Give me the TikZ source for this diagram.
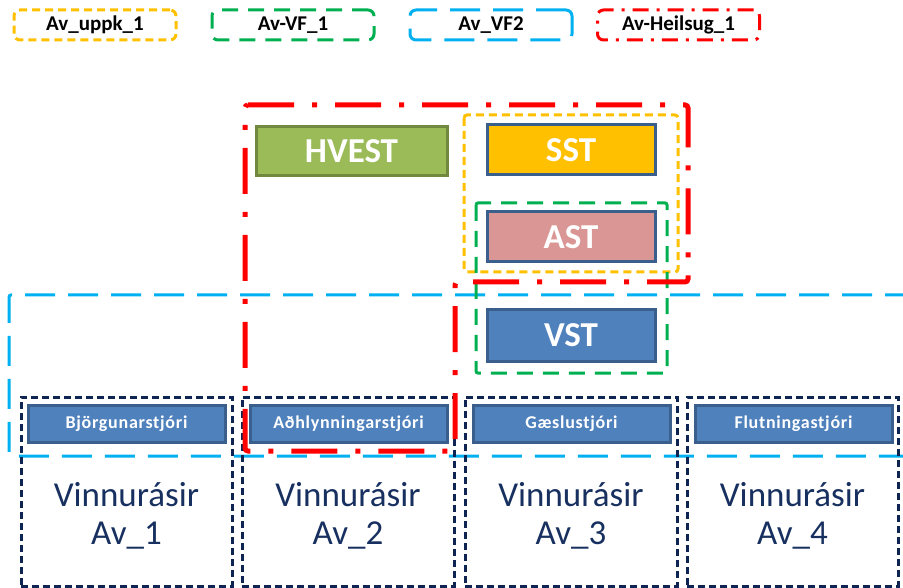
\documentclass[tikz,border=0pt]{standalone}
\usepackage{fontspec}
\setmainfont{Carlito}
\definecolor{cyel}{HTML}{FFC000}
\definecolor{cgrn}{HTML}{00B050}
\definecolor{cblu}{HTML}{00B0F0}
\definecolor{cred}{HTML}{FF0000}
\definecolor{cnavy}{HTML}{0E2453}
\definecolor{ctext}{HTML}{17305F}
\definecolor{cboxblue}{HTML}{4F81BD}
\definecolor{cboxedge}{HTML}{3A5F8D}
\definecolor{cgreenfill}{HTML}{9BBB59}
\definecolor{cgreenedge}{HTML}{71893F}
\definecolor{cpink}{HTML}{D99694}
\begin{document}
\begin{tikzpicture}[x=1pt,y=-1pt,
  legbox/.style={draw, line width=3pt, rounded corners=6pt, minimum width=162pt, minimum height=30pt, inner sep=0pt, font=\fontsize{21}{23}\selectfont\bfseries},
  yeldash/.style={dash pattern=on 8pt off 5pt},
  grndash/.style={dash pattern=on 16pt off 10pt},
  bludash/.style={dash pattern=on 30pt off 13pt},
  reddash/.style={dash pattern=on 46pt off 18pt on 5pt off 18pt},
  navydash/.style={dash pattern=on 7pt off 4pt},
  bigbox/.style={draw=cboxedge, line width=3pt, inner sep=0pt, minimum width=168pt, minimum height=50pt, text=white, font=\fontsize{35}{37}\selectfont\bfseries},
  smallbox/.style={draw=cboxedge, fill=cboxblue, line width=3pt, inner sep=0pt, minimum width=197pt, minimum height=37pt, text=white, font=\fontsize{18}{20}\selectfont\bfseries\addfontfeatures{LetterSpace=4}},
  colbox/.style={draw=cnavy, line width=3pt, navydash, inner sep=0pt, minimum width=211pt, minimum height=189pt},
  coltext/.style={text=ctext, align=center, font=\fontsize{35}{38}\selectfont}
]
\useasboundingbox (0,0) rectangle (903,588);
% legend
\node[legbox, draw=cyel, yeldash] (lyel) at (95,25) {Av\_uppk\_1};
\node[legbox, draw=cgrn, grndash] (lgrn) at (293,25) {Av-VF\_1};
\node[legbox, draw=cblu, bludash] (lblu) at (491,25) {Av\_VF2};
\node[legbox, draw=cred, dash pattern=on 16pt off 8pt on 3pt off 8pt] (lred) at (678.5,25) {Av-Heilsug\_1};
% big blue region
\draw[cblu, line width=3pt, bludash, rounded corners=2pt] (915,295) -- (9,295) -- (9,456) -- (915,456);
% columns
\node[colbox] (c1) at (126.5,491.5) {};
\node[colbox, minimum width=212pt] (c2) at (348,491.5) {};
\node[colbox, minimum width=212pt] (c3) at (571,491.5) {};
\node[colbox] (c4) at (792.5,491.5) {};
\node[coltext] (t1) at (126.5,516) {Vinnurásir\\Av\_1};
\node[coltext] (t2) at (348,516) {Vinnurásir\\Av\_2};
\node[coltext] (t3) at (571,516) {Vinnurásir\\Av\_3};
\node[coltext] (t4) at (792.5,516) {Vinnurásir\\Av\_4};
% small boxes
\node[smallbox] (s1) at (126.5,423.5) {Björgunarstjóri};
\node[smallbox] (s2) at (348.5,423.5) {Aðhlynningarstjóri};
\node[smallbox] (s3) at (571.5,423.5) {Gæslustjóri};
\node[smallbox] (s4) at (793.5,423.5) {Flutningastjóri};
% top boxes
\node[bigbox, draw=cgreenedge, fill=cgreenfill, minimum width=191pt, minimum height=49pt] (hvest) at (351.5,151.5) {HVEST};
\node[bigbox, fill=cyel] (sst) at (571,150) {SST};
\node[bigbox, fill=cpink] (ast) at (571,237) {AST};
\node[bigbox, fill=cboxblue, minimum height=51pt] (vst) at (571,335.5) {VST};
% yellow and green groups
\draw[cyel, line width=3pt, yeldash, rounded corners=3pt] (464,115) rectangle (678,272);
\draw[cgrn, line width=3pt, grndash, rounded corners=2pt] (476,203) rectangle (667,373);
% red group
\coordinate (r1) at (245,105);
\coordinate (r2) at (688,105);
\coordinate (r3) at (688,282);
\coordinate (r4) at (455,282);
\coordinate (r5) at (455,451);
\coordinate (r6) at (245,451);
\draw[cred, line width=5pt, reddash, rounded corners=3pt] (r1) -- (r2) -- (r3) -- (r4) -- (r5) -- (r6) -- cycle;
\end{tikzpicture}
\end{document}
